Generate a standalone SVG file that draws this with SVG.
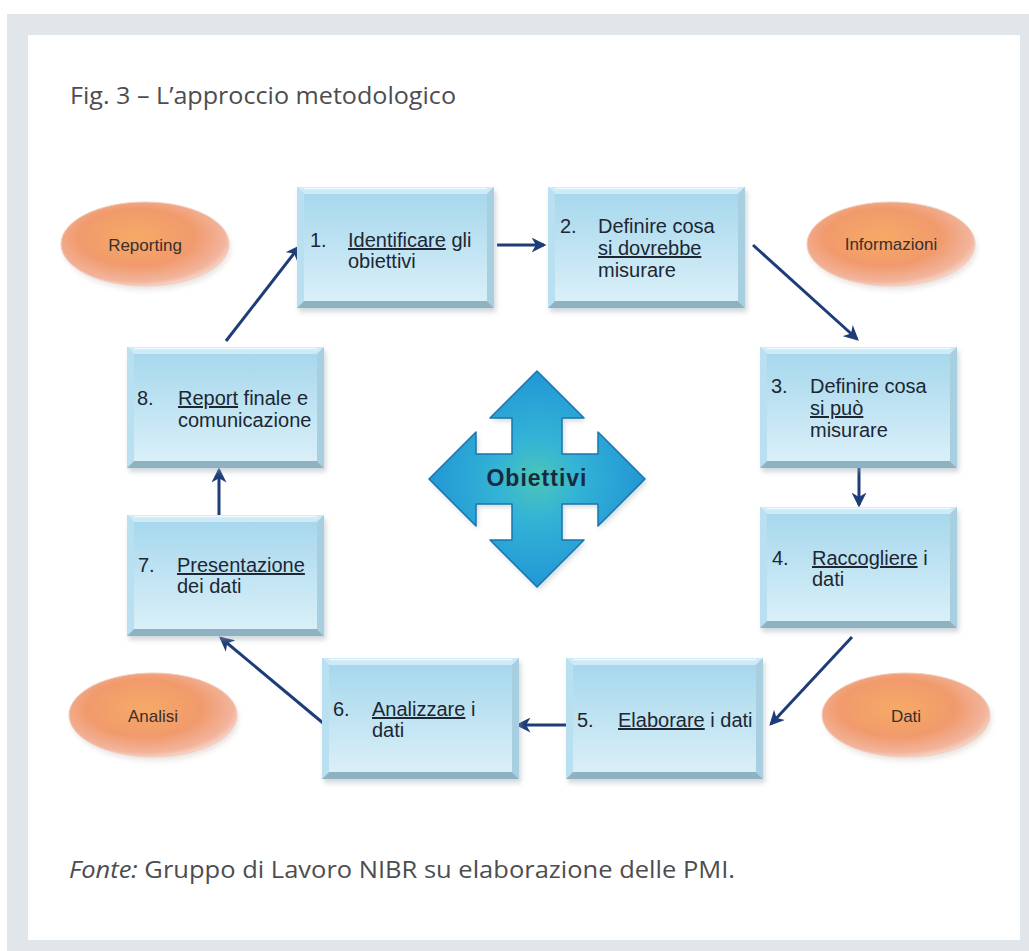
<svg xmlns="http://www.w3.org/2000/svg" xmlns:xlink="http://www.w3.org/1999/xlink" width="1029" height="951" viewBox="0 0 1029 951">
  <style>
    .cap { font-family: "Open Sans", "Liberation Sans", sans-serif; font-size: 23px; fill: #4d4d4f; }
    .step { font-family: "Liberation Sans", Arial, sans-serif; font-size: 20px; fill: #1c2733; }
    .u { text-decoration: underline; }
    .tag { font-family: "Liberation Sans", Arial, sans-serif; font-size: 17px; fill: #3a2f2c; text-anchor: middle; }
    .hub { font-family: "Liberation Sans", Arial, sans-serif; font-size: 23px; font-weight: bold; fill: #172a40; text-anchor: middle; letter-spacing: 1px; }
    .link { fill: none; stroke: #1e3d78; stroke-width: 3; marker-end: url(#head); }
  </style>
  <defs>
    <linearGradient id="boxFill" x1="0" y1="0" x2="0" y2="1">
      <stop offset="0" stop-color="#a3d6ec"/>
      <stop offset="1" stop-color="#ddf1f9"/>
    </linearGradient>
    <radialGradient id="ovalFill" cx="0.45" cy="0.42" r="0.62">
      <stop offset="0" stop-color="#f6aa66"/>
      <stop offset="0.55" stop-color="#f19a6c"/>
      <stop offset="0.85" stop-color="#f2b49c"/>
      <stop offset="1" stop-color="#fae4dc"/>
    </radialGradient>
    <radialGradient id="hubFill" cx="0.5" cy="0.5" r="0.55">
      <stop offset="0" stop-color="#4cc6b8"/>
      <stop offset="0.35" stop-color="#33b3d6"/>
      <stop offset="1" stop-color="#1f92d4"/>
    </radialGradient>
    <filter id="soft" x="-10%" y="-10%" width="120%" height="130%">
      <feGaussianBlur stdDeviation="2.5"/>
    </filter>
    <marker id="head" viewBox="0 0 12 12" refX="10" refY="6" markerWidth="5" markerHeight="5" markerUnits="strokeWidth" orient="auto">
      <path d="M0,0 L12,6 L0,12 L3.5,6 z" fill="#1e3d78"/>
    </marker>
    <!-- bevelled step box, 197 x 121 -->
    <g id="box">
      <rect x="2" y="4" width="197" height="121" fill="#9aa8b0" opacity="0.45" filter="url(#soft)"/>
      <rect x="0" y="0" width="197" height="121" fill="url(#boxFill)"/>
      <polygon points="0,0 197,0 190,7 7,7" fill="#cdeaf6"/>
      <polygon points="0,0 7,7 7,114 0,121" fill="#b9e0f0"/>
      <polygon points="197,0 197,121 190,114 190,7" fill="#a7cfe0"/>
      <polygon points="0,121 7,114 190,114 197,121" fill="#8fb2c2"/>
      <line x1="7" y1="1.5" x2="190" y2="1.5" stroke="#eef9fd" stroke-width="1.5"/>
    </g>
    <!-- orange label oval -->
    <g id="oval">
      <ellipse cx="2" cy="4" rx="84" ry="42" fill="#c9b6ad" opacity="0.35" filter="url(#soft)"/>
      <ellipse cx="0" cy="0" rx="84" ry="42" fill="url(#ovalFill)" stroke="#efcdbf" stroke-width="1"/>
    </g>
  </defs>

  <!-- page frame -->
  <rect x="7" y="14" width="1022" height="937" fill="#e1e6ea"/>
  <rect x="28" y="35" width="992" height="905" fill="#ffffff"/>

  <text class="cap" x="70" y="104" textLength="386" lengthAdjust="spacingAndGlyphs">Fig. 3 – L’approccio metodologico</text>

  <!-- connectors -->
  <g id="connectors">
    <line class="link" x1="226" y1="341" x2="299" y2="247"/>
    <line class="link" x1="497" y1="245" x2="544" y2="245"/>
    <line class="link" x1="753" y1="245" x2="857" y2="339"/>
    <line class="link" x1="859" y1="468" x2="859" y2="505"/>
    <line class="link" x1="852" y1="637" x2="771" y2="724"/>
    <line class="link" x1="566" y1="725" x2="518" y2="725"/>
    <line class="link" x1="323" y1="723" x2="221" y2="638"/>
    <line class="link" x1="219" y1="515" x2="219" y2="470"/>
  </g>

  <!-- central four-way arrow -->
  <g id="hub">
    <polygon points="537,371 584,418 562,418 562,454 598,454 598,432 645,479 598,526 598,504 562,504 562,540 584,540 537,587 490,540 512,540 512,504 476,504 476,526 429,479 476,432 476,454 512,454 512,418 490,418" fill="#8aa0b0" opacity="0.4" filter="url(#soft)" transform="translate(2,3)"/>
    <polygon points="537,371 584,418 562,418 562,454 598,454 598,432 645,479 598,526 598,504 562,504 562,540 584,540 537,587 490,540 512,540 512,504 476,504 476,526 429,479 476,432 476,454 512,454 512,418 490,418" fill="url(#hubFill)" stroke="#1b74ae" stroke-width="1.5" stroke-linejoin="round"/>
    <text class="hub" x="537" y="486">Obiettivi</text>
  </g>

  <!-- steps -->
  <g id="step1">
    <use xlink:href="#box" x="297" y="187"/>
    <text class="step" x="310" y="247">1.</text>
    <text class="step" x="348" y="247"><tspan class="u">Identificare</tspan> gli</text>
    <text class="step" x="348" y="268">obiettivi</text>
  </g>
  <g id="step2">
    <use xlink:href="#box" x="548" y="187"/>
    <text class="step" x="560" y="233">2.</text>
    <text class="step" x="598" y="233">Definire cosa</text>
    <text class="step" x="598" y="255"><tspan class="u">si dovrebbe</tspan></text>
    <text class="step" x="598" y="277">misurare</text>
  </g>
  <g id="step3">
    <use xlink:href="#box" x="760" y="347"/>
    <text class="step" x="771" y="393">3.</text>
    <text class="step" x="810" y="393">Definire cosa</text>
    <text class="step" x="810" y="415"><tspan class="u">si può</tspan></text>
    <text class="step" x="810" y="437">misurare</text>
  </g>
  <g id="step4">
    <use xlink:href="#box" x="760" y="507"/>
    <text class="step" x="772" y="565">4.</text>
    <text class="step" x="812" y="565"><tspan class="u">Raccogliere</tspan> i</text>
    <text class="step" x="812" y="586">dati</text>
  </g>
  <g id="step5">
    <use xlink:href="#box" x="566" y="658"/>
    <text class="step" x="577" y="727">5.</text>
    <text class="step" x="618" y="727"><tspan class="u">Elaborare</tspan> i dati</text>
  </g>
  <g id="step6">
    <use xlink:href="#box" x="322" y="658"/>
    <text class="step" x="333" y="716">6.</text>
    <text class="step" x="372" y="716"><tspan class="u">Analizzare</tspan> i</text>
    <text class="step" x="372" y="737">dati</text>
  </g>
  <g id="step7">
    <use xlink:href="#box" x="127" y="515"/>
    <text class="step" x="138" y="572">7.</text>
    <text class="step" x="177" y="572"><tspan class="u">Presentazione</tspan></text>
    <text class="step" x="177" y="593">dei dati</text>
  </g>
  <g id="step8">
    <use xlink:href="#box" x="127" y="347"/>
    <text class="step" x="137" y="405">8.</text>
    <text class="step" x="178" y="405"><tspan class="u">Report</tspan> finale e</text>
    <text class="step" x="178" y="427">comunicazione</text>
  </g>

  <!-- phase labels -->
  <g id="reporting">
    <use xlink:href="#oval" x="145" y="244"/>
    <text class="tag" x="145" y="251">Reporting</text>
  </g>
  <g id="informazioni">
    <use xlink:href="#oval" x="891" y="244"/>
    <text class="tag" x="891" y="250">Informazioni</text>
  </g>
  <g id="dati">
    <use xlink:href="#oval" x="906" y="715"/>
    <text class="tag" x="906" y="722">Dati</text>
  </g>
  <g id="analisi">
    <use xlink:href="#oval" x="153" y="715"/>
    <text class="tag" x="153" y="722">Analisi</text>
  </g>

  <text class="cap" x="69" y="878" textLength="666" lengthAdjust="spacingAndGlyphs"><tspan font-style="italic">Fonte:</tspan> Gruppo di Lavoro NIBR su elaborazione delle PMI.</text>
</svg>
